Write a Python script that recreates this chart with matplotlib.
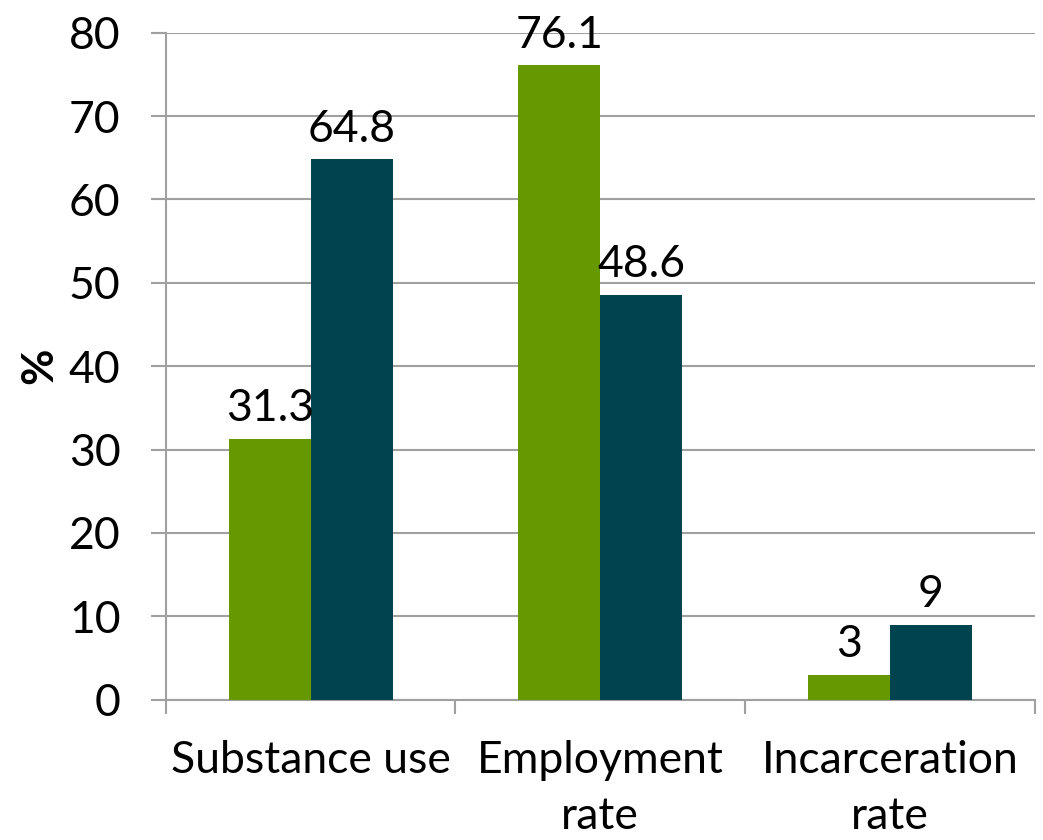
import matplotlib.pyplot as plt
import numpy as np

plt.rcParams['font.family'] = ['Lato', 'DejaVu Sans']

categories = ['Substance use', 'Employment\nrate', 'Incarceration\nrate']
series_a = [31.3, 76.1, 3]
series_b = [64.8, 48.6, 9]
labels_a = ['31.3', '76.1', '3']
labels_b = ['64.8', '48.6', '9']

green = '#669900'
teal = '#024350'
grid_col = '#a0a0a0'
fs = 32

fig = plt.figure(figsize=(10.43, 8.4), dpi=100)
ax = fig.add_axes([0.159, 0.167, 0.833, 0.794])

x = np.arange(len(categories))
w = 0.283
ba = ax.bar(x - w / 2, series_a, w, color=green, zorder=3)
bb = ax.bar(x + w / 2, series_b, w, color=teal, zorder=3)
ax.bar_label(ba, labels=labels_a, padding=7, fontsize=fs)
ax.bar_label(bb, labels=labels_b, padding=7, fontsize=fs)

ax.set_xlim(-0.5, 2.5)
ax.set_ylim(0, 80)
ax.set_yticks(range(0, 81, 10))
ax.yaxis.grid(True, color=grid_col, linewidth=1.5, zorder=0)
ax.set_axisbelow(True)

# category ticks sit between the groups
ax.set_xticks([-0.5, 0.5, 1.5, 2.5])
ax.set_xticklabels([])
ax.set_xticks(x, minor=True)
ax.set_xticklabels(categories, minor=True, fontsize=fs, linespacing=1.45)
ax.tick_params(axis='x', which='minor', length=0, pad=29)
ax.tick_params(axis='x', which='major', length=10, width=1.5, color=grid_col)
ax.tick_params(axis='y', length=10.5, width=1.5, color=grid_col, labelsize=fs, pad=22)

for s in ['top', 'right']:
    ax.spines[s].set_visible(False)
for s in ['left', 'bottom']:
    ax.spines[s].set_color(grid_col)
    ax.spines[s].set_linewidth(1.5)

ax.set_ylabel('%', fontsize=fs, fontweight='bold', labelpad=7)

fig.savefig('out.png', dpi=100)
